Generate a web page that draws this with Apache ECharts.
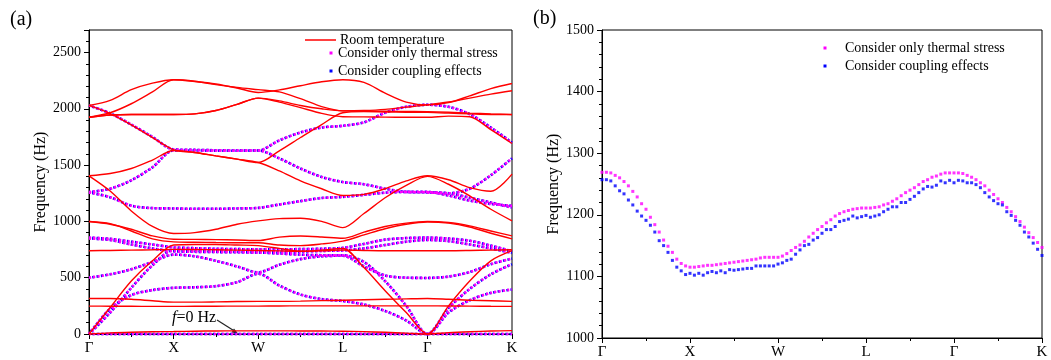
<!DOCTYPE html>
<html>
<head>
<meta charset="utf-8">
<script src="https://cdn.jsdelivr.net/npm/echarts/dist/echarts.min.js"></script>
<style>
html,body{margin:0;padding:0;background:#fff;}
#chart{width:1051px;height:360px;}
</style>
</head>
<body>
<div id="chart"></div>
<script>
// ---------- data ----------
const kPathLabels = ['Γ', 'X', 'W', 'L', 'Γ', 'K'];
const stepA = 0.25;   // panel (a): sampling step along the k-path (segments Γ-X ... Γ-K have length 1)
const stepB = 0.05;   // panel (b): 20 points per segment

// Panel (a) room temperature bands (Hz), 21 samples Γ..K
const roomR1  = [2030, 2075, 2170, 2228, 2258, 2242, 2220, 2185, 2145, 2168, 2205, 2240, 2258, 2235, 2140, 2060, 2035, 2055, 2115, 2180, 2225];
const roomR2  = [1925, 1965, 2045, 2150, 2258, 2245, 2215, 2190, 2170, 2150, 2090, 2020, 1982, 1980, 1978, 1976, 1975, 1970, 1962, 1955, 1950];
const roomR3  = [1925, 1945, 1950, 1950, 1950, 1955, 1985, 2040, 2095, 2060, 2010, 1960, 1930, 1928, 1926, 1925, 1925, 1935, 1930, 1815, 1692];
const roomR4  = [1925, 1945, 1950, 1950, 1950, 1955, 1985, 2040, 2095, 2070, 2030, 2000, 1982, 1985, 1995, 2015, 2035, 2060, 2095, 2130, 2160];
const roomR5  = [2030, 1958, 1858, 1745, 1636, 1612, 1582, 1553, 1523, 1449, 1360, 1290, 1230, 1240, 1290, 1360, 1405, 1370, 1300, 1268, 1420];
const roomR6  = [1405, 1425, 1470, 1545, 1630, 1612, 1582, 1553, 1523, 1627, 1745, 1860, 1965, 1975, 1972, 1970, 1968, 1962, 1955, 1950, 1948];
const roomR7  = [1405, 1270, 1093, 955, 892, 900, 930, 975, 1005, 1025, 1028, 1000, 945, 1070, 1210, 1320, 1400, 1330, 1227, 1108, 1005];
const roomR8  = [999, 975, 930, 871, 842, 840, 838, 835, 830, 860, 870, 862, 850, 905, 955, 985, 1000, 990, 960, 915, 871];
const roomR9  = [999, 980, 915, 845, 818, 815, 812, 810, 810, 790, 785, 800, 825, 880, 935, 975, 995, 985, 950, 895, 845];
const roomR10 = [740, 742, 745, 748, 752, 750, 748, 745, 742, 738, 735, 738, 745, 742, 740, 740, 740, 740, 742, 745, 748];
const roomR11 = [0, 235, 470, 650, 790, 795, 795, 790, 785, 760, 735, 745, 760, 590, 385, 190, 0, 250, 470, 650, 740];
const roomR12 = [315, 315, 308, 295, 283, 283, 285, 288, 290, 290, 292, 296, 300, 304, 308, 312, 315, 308, 300, 295, 290];
const roomR13 = [248, 247, 246, 245, 245, 246, 247, 248, 248, 249, 250, 250, 250, 250, 250, 250, 250, 249, 248, 246, 245];
const roomR14 = [0, 10, 16, 20, 22, 25, 27, 28, 28, 28, 27, 26, 25, 21, 15, 8, 0, 12, 20, 26, 30];
const roomBands = [roomR1, roomR2, roomR3, roomR4, roomR5, roomR6, roomR7, roomR8, roomR9, roomR10, roomR11, roomR12, roomR13, roomR14];

// Panel (a) bands with thermal stress (the coupling-effect bands coincide with them at this scale)
const thermD0 = [0, 0, 0, 0, 0, 0, 0, 0, 0, 0, 0, 0, 0, 0, 0, 0, 0, 0, 0, 0, 0];
const thermD1 = [2030, 1960, 1860, 1750, 1640, 1635, 1632, 1630, 1630, 1720, 1790, 1834, 1849, 1880, 1965, 2018, 2036, 2018, 1953, 1834, 1700];
const thermD2 = [1260, 1290, 1365, 1480, 1630, 1630, 1628, 1628, 1630, 1560, 1470, 1395, 1350, 1330, 1290, 1262, 1258, 1250, 1210, 1168, 1123];
const thermD3 = [null, null, null, null, null, null, null, null, null, null, null, null, null, null, null, null, 1258, 1250, 1290, 1410, 1560];
const thermD4 = [1258, 1215, 1140, 1118, 1115, 1112, 1112, 1115, 1120, 1150, 1180, 1208, 1218, 1236, 1255, 1262, 1262, 1230, 1185, 1155, 1138];
const thermD5 = [856, 845, 820, 795, 770, 762, 757, 754, 752, 752, 754, 757, 765, 800, 838, 852, 856, 848, 828, 785, 735];
const thermD6 = [848, 835, 795, 760, 735, 730, 728, 726, 725, 728, 732, 738, 742, 760, 790, 820, 835, 825, 795, 760, 720];
const thermD7 = [500, 530, 575, 640, 705, 690, 650, 600, 548, 615, 665, 690, 695, 600, 520, 500, 498, 510, 550, 620, 670];
const thermD8 = [0, 225, 345, 390, 410, 415, 425, 460, 535, 430, 350, 310, 293, 262, 205, 120, 0, 190, 300, 365, 395];
const thermD9 = [0, 190, 410, 610, 745, 740, 735, 730, 725, 715, 705, 700, 700, 640, 470, 250, 0, 230, 400, 530, 620];
const thermalBandsA = [thermD0, thermD1, thermD2, thermD3, thermD4, thermD5, thermD6, thermD7, thermD8, thermD9];
const couplingBandsA = thermalBandsA;

// Panel (b): one band, 101 samples Γ..K
const thermalB = [
  1269, 1269, 1268, 1264, 1260, 1254, 1247, 1238, 1229, 1218, 1209, 1196, 1184, 1172, 1159, 1149, 1139, 1128, 1121, 1117, 1115,
  1115, 1116, 1117, 1118, 1118, 1119, 1120, 1121, 1122, 1123, 1124, 1125, 1126, 1127, 1128, 1130, 1131, 1131, 1131, 1131,
  1133, 1137, 1142, 1147, 1151, 1157, 1164, 1170, 1176, 1181, 1187, 1192, 1198, 1202, 1205, 1207, 1209, 1210, 1211, 1211,
  1211, 1212, 1213, 1216, 1218, 1222, 1226, 1231, 1236, 1240, 1244, 1249, 1254, 1257, 1261, 1263, 1266, 1268, 1268, 1268,
  1268, 1267, 1264, 1261, 1257, 1252, 1247, 1240, 1233, 1226, 1220, 1212, 1205, 1197, 1189, 1180, 1171, 1163, 1155, 1147
];
const couplingB = [
  1257, 1257, 1255, 1247, 1239, 1234, 1224, 1216, 1206, 1198, 1191, 1183, 1172, 1158, 1150, 1139, 1126, 1115, 1109, 1103, 1105,
  1102, 1105, 1102, 1106, 1108, 1106, 1109, 1106, 1111, 1110, 1111, 1112, 1113, 1113, 1117, 1117, 1117, 1117, 1117, 1120,
  1122, 1126, 1128, 1136, 1143, 1150, 1152, 1159, 1163, 1170, 1176, 1176, 1181, 1189, 1191, 1193, 1198, 1195, 1197, 1199,
  1196, 1198, 1200, 1205, 1209, 1213, 1213, 1220, 1220, 1225, 1230, 1236, 1242, 1246, 1245, 1248, 1255, 1252, 1256, 1252,
  1256, 1255, 1252, 1252, 1249, 1244, 1236, 1229, 1223, 1218, 1216, 1205, 1199, 1191, 1183, 1172, 1164, 1154, 1144, 1134
];

const NAME_ROOM = 'Room temperature';
const NAME_THERM = 'Consider only thermal stress';
const NAME_COUP = 'Consider coupling effects';

// ---------- chart ----------
const FONT = '"Liberation Serif", "Times New Roman", serif';
const RED = '#ff0000', MAG = '#ff00ff', BLUE = '#0000ff';

function pts(arr, step) {
  const out = [];
  arr.forEach((v, i) => { if (v !== null) out.push([Math.round(i * step * 1000) / 1000, v]); });
  return out;
}

const SMOOTH = 0.3;
const series = [];
couplingBandsA.forEach(b => series.push({
  type: 'line', name: NAME_COUP, xAxisIndex: 0, yAxisIndex: 0, data: pts(b, stepA),
  showSymbol: false, smooth: SMOOTH, clip: false, silent: true, z: 2,
  lineStyle: { color: BLUE, width: 2.6, type: [2.2, 2.1], dashOffset: 0.9 }
}));
thermalBandsA.forEach(b => series.push({
  type: 'line', name: NAME_THERM, xAxisIndex: 0, yAxisIndex: 0, data: pts(b, stepA),
  showSymbol: false, smooth: SMOOTH, clip: false, silent: true, z: 3,
  lineStyle: { color: MAG, width: 2.6, type: [2.2, 2.1], dashOffset: 0 }
}));
roomBands.forEach(b => series.push({
  type: 'line', name: NAME_ROOM, xAxisIndex: 0, yAxisIndex: 0, data: pts(b, stepA),
  showSymbol: false, smooth: SMOOTH, clip: false, silent: true, z: 4,
  lineStyle: { color: RED, width: 1.4 }
}));
series.push({
  type: 'scatter', name: NAME_THERM, xAxisIndex: 1, yAxisIndex: 1, data: pts(thermalB, stepB),
  symbol: 'rect', symbolSize: 3, itemStyle: { color: MAG }, silent: true, z: 3
});
series.push({
  type: 'scatter', name: NAME_COUP, xAxisIndex: 1, yAxisIndex: 1, data: pts(couplingB, stepB),
  symbol: 'rect', symbolSize: 3, itemStyle: { color: BLUE }, silent: true, z: 3
});

function xAxisCfg(grid) {
  return {
    type: 'value', gridIndex: grid, min: 0, max: 5, interval: 1,
    axisLine: { show: true, onZero: false, lineStyle: { color: '#000', width: 1 } },
    axisTick: { show: true, inside: false, length: 5, lineStyle: { color: '#000' } },
    minorTick: { show: true, splitNumber: 2, length: 3, lineStyle: { color: '#000' } },
    splitLine: { show: false },
    axisLabel: { color: '#000', fontFamily: FONT, fontSize: 15, margin: 7,
      formatter: v => kPathLabels[Math.round(v)] }
  };
}
function yAxisCfg(grid, min, max, gap) {
  return {
    type: 'value', gridIndex: grid, min: min, max: max, interval: grid === 0 ? 500 : 100,
    name: 'Frequency (Hz)', nameLocation: 'middle', nameGap: gap,
    nameTextStyle: { color: '#000', fontFamily: FONT, fontSize: 16 },
    axisLine: { show: true, onZero: false, lineStyle: { color: '#000', width: 1 } },
    axisTick: { show: true, inside: false, length: 5, lineStyle: { color: '#000' } },
    minorTick: { show: true, splitNumber: 5, length: 3, lineStyle: { color: '#000' } },
    splitLine: { show: false },
    axisLabel: { color: '#000', fontFamily: FONT, fontSize: 14, margin: 8, showMaxLabel: grid !== 0,
      formatter: v => String(v) }
  };
}

const txt = (x, y, text, size) => ({
  type: 'text', x: x, y: y, silent: true,
  style: { text: text, font: size + 'px ' + FONT, fill: '#000', verticalAlign: 'middle', align: 'left' }
});

const option = {
  animation: false,
  backgroundColor: '#fff',
  grid: [
    { left: 89, top: 30, width: 423, height: 304, show: true, borderColor: '#000', borderWidth: 1, containLabel: false },
    { left: 602, top: 30, width: 440, height: 308, show: true, borderColor: '#000', borderWidth: 1, containLabel: false }
  ],
  xAxis: [xAxisCfg(0), xAxisCfg(1)],
  yAxis: [yAxisCfg(0, 0, 2700, 34), yAxisCfg(1, 1000, 1500, 30)],
  series: series,
  graphic: [
    txt(10, 20, '(a)', 20),
    txt(533, 19, '(b)', 20),
    // legend (a)
    { type: 'line', silent: true, shape: { x1: 305, y1: 40, x2: 336, y2: 40 }, style: { stroke: RED, lineWidth: 1.5 } },
    txt(340, 40, NAME_ROOM, 14),
    { type: 'rect', silent: true, shape: { x: 329.5, y: 51.5, width: 3, height: 3 }, style: { fill: MAG } },
    txt(338, 53, NAME_THERM, 14),
    { type: 'rect', silent: true, shape: { x: 329.5, y: 69.5, width: 3, height: 3 }, style: { fill: BLUE } },
    txt(338, 71, NAME_COUP, 14),
    // legend (b)
    { type: 'rect', silent: true, shape: { x: 823.5, y: 46.5, width: 3, height: 3 }, style: { fill: MAG } },
    txt(845, 48, NAME_THERM, 14),
    { type: 'rect', silent: true, shape: { x: 823.5, y: 64.5, width: 3, height: 3 }, style: { fill: BLUE } },
    txt(845, 66, NAME_COUP, 14),
    // f = 0 Hz annotation
    { type: 'text', x: 172, y: 318, silent: true,
      style: { text: '{i|f}=0 Hz', font: '16px ' + FONT, fill: '#000', verticalAlign: 'middle',
        rich: { i: { fontStyle: 'italic', fontFamily: FONT, fontSize: 16, fill: '#000' } } } },
    { type: 'line', silent: true, shape: { x1: 217, y1: 320, x2: 236, y2: 332 }, style: { stroke: '#222', lineWidth: 1.2 } },
    { type: 'polygon', silent: true, shape: { points: [[238, 333.5], [231.5, 332.5], [234, 328.5]] }, style: { fill: '#222' } }
  ]
};

const chart = echarts.init(document.getElementById('chart'), null, { renderer: 'canvas' });
chart.setOption(option);
</script>
</body>
</html>
